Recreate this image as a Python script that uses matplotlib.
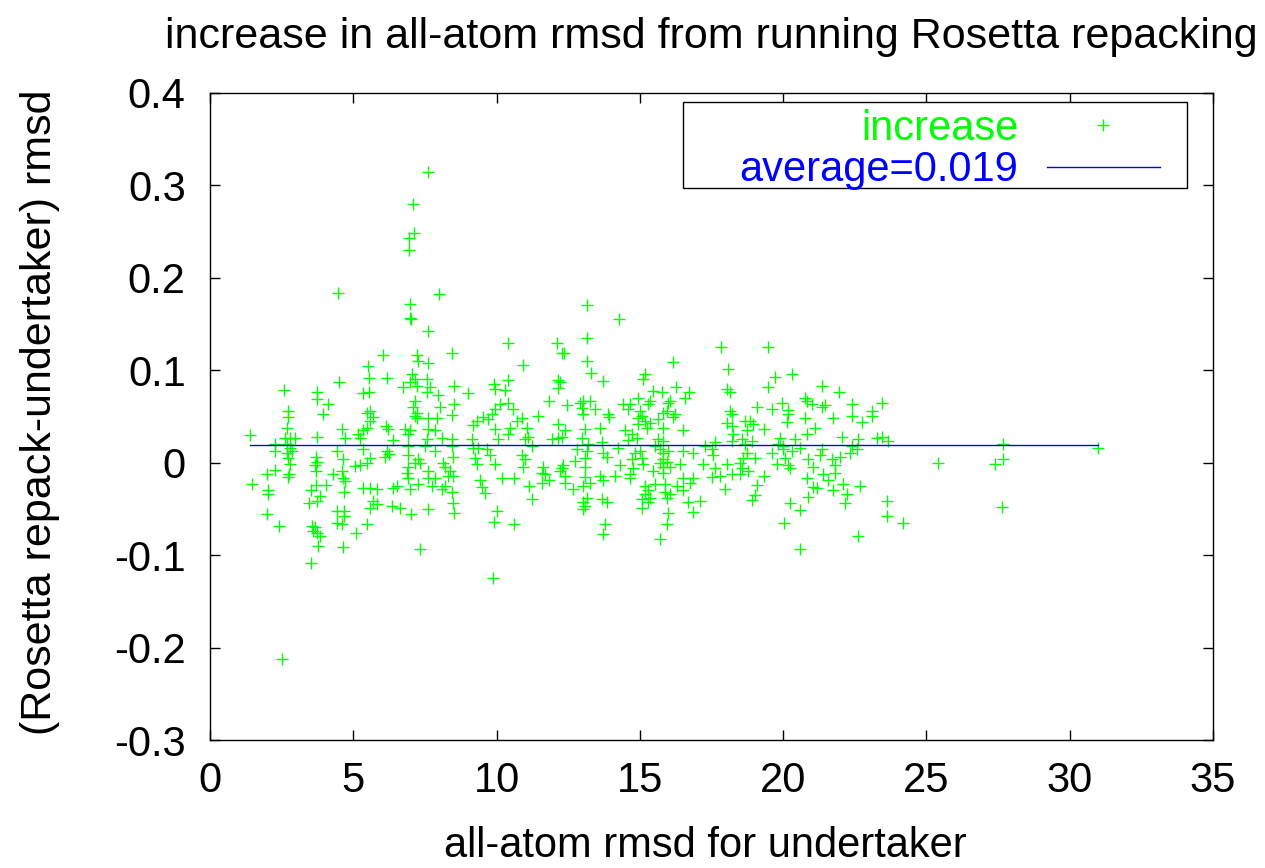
import matplotlib
matplotlib.use("Agg")
import matplotlib.pyplot as plt
import numpy as np

plt.rcParams['font.family'] = ['Liberation Sans', 'DejaVu Sans']

# ---- data ----
x_low = [1.40, 1.47, 2.02, 2.02, 1.99, 2.27, 1.99, 2.41, 2.27, 2.27, 2.58, 2.72, 2.72, 2.69, 2.62, 2.79, 2.97, 2.69,
         2.79, 2.86, 2.69, 2.72, 2.79, 2.76, 2.72, 2.51, 3.52, 3.73, 3.73, 4.12, 3.94, 3.73, 3.70, 3.73, 3.66, 3.70,
         4.05, 3.70, 3.52, 3.84, 3.73, 3.45, 3.56, 3.66, 3.73, 3.84, 3.77, 3.59, 4.50, 4.61, 4.71, 4.43, 4.64, 4.29,
         4.61, 4.64, 4.71, 4.68, 4.43, 4.68, 4.68, 4.43, 4.61, 4.64, 5.09, 5.06, 5.23, 5.48, 5.58, 5.69, 5.83, 5.34,
         5.58, 5.83, 5.48, 5.58, 5.34, 5.23, 5.16, 5.34, 5.48, 5.58, 5.69, 5.48, 5.58, 5.34, 5.55, 5.55, 5.51, 6.04,
         6.18, 6.14, 6.21, 6.39, 6.18, 6.25, 6.11, 6.39, 6.35, 4.47]
y_low = [0.030, -0.023, -0.030, -0.034, -0.012, -0.008, -0.056, -0.069, 0.020, 0.013, 0.079, 0.056, 0.049, 0.038,
         0.027, 0.027, 0.027, 0.020, 0.016, 0.013, 0.010, 0.005, -0.001, -0.012, -0.015, -0.212, -0.108, 0.077,
         0.069, 0.064, 0.053, 0.028, 0.006, 0.001, -0.003, -0.009, -0.024, -0.024, -0.030, -0.036, -0.041, -0.044,
         -0.068, -0.070, -0.076, -0.079, -0.090, -0.074, 0.087, 0.036, 0.027, 0.013, 0.004, -0.012, -0.009, -0.016,
         -0.020, -0.032, -0.052, -0.052, -0.058, -0.065, -0.066, -0.091, -0.076, -0.004, -0.003, -0.066, -0.049,
         -0.041, -0.045, -0.027, -0.027, -0.028, 0.000, 0.005, 0.015, 0.027, 0.031, 0.035, 0.038, 0.045, 0.049,
         0.054, 0.056, 0.075, 0.076, 0.092, 0.105, 0.117, 0.092, 0.040, 0.037, 0.025, 0.013, 0.009, 0.006, -0.027,
         -0.047, 0.184]

x_mid = [7.61, 7.08, 7.12, 6.94, 6.94, 7.99, 6.98, 6.98, 7.01, 13.15, 14.27,
         7.61, 10.40, 12.11, 8.44, 7.22, 7.26, 7.61, 10.92, 12.28, 7.05, 7.15, 7.57, 6.98, 6.73, 7.22, 7.68, 8.51,
         7.57, 7.96, 9.00, 9.91, 9.94, 10.40, 10.29, 12.14, 12.14, 7.15, 7.08, 7.22, 7.15, 7.22, 8.03, 8.51, 8.44,
         7.92, 7.61, 11.83, 11.44, 10.12, 10.40, 10.57, 9.94, 9.84, 9.53, 9.32, 9.70, 9.18, 9.94, 10.47, 10.71,
         10.89, 11.06, 11.10, 10.99, 10.40, 10.05, 12.14, 12.14, 11.93, 6.80, 6.98, 6.91, 7.61, 7.85, 7.57, 8.10,
         8.44, 9.14, 6.91, 7.50, 8.44, 9.18, 9.35, 9.67, 7.85, 6.91, 7.26, 8.48, 9.25, 9.77, 10.89, 11.24, 7.15,
         7.33, 8.13, 9.32, 9.94, 10.99, 10.92, 6.91, 7.61, 8.20, 8.37, 6.87, 8.48, 7.85, 6.91, 7.61, 8.30, 6.52,
         7.26, 7.75, 8.20, 6.98, 8.10, 8.44, 9.42, 9.49, 9.60, 10.19, 10.61, 11.13, 11.62, 11.58, 11.69, 11.58,
         11.83, 12.28, 11.24, 8.48, 8.51, 7.61, 6.63, 7.01, 10.01, 9.91, 10.61, 7.33, 9.87]
y_mid = [0.314, 0.280, 0.249, 0.243, 0.230, 0.183, 0.172, 0.157, 0.156, 0.171, 0.155,
         0.142, 0.130, 0.129, 0.119, 0.116, 0.110, 0.108, 0.106, 0.119, 0.096, 0.091, 0.091, 0.087, 0.082, 0.083,
         0.082, 0.083, 0.076, 0.073, 0.075, 0.085, 0.080, 0.090, 0.079, 0.089, 0.081, 0.067, 0.060, 0.054, 0.051,
         0.048, 0.060, 0.063, 0.052, 0.048, 0.048, 0.067, 0.051, 0.064, 0.065, 0.058, 0.058, 0.053, 0.049, 0.045,
         0.047, 0.041, 0.037, 0.038, 0.045, 0.048, 0.038, 0.028, 0.026, 0.031, 0.026, 0.042, 0.027, 0.026, 0.037,
         0.035, 0.031, 0.037, 0.035, 0.026, 0.027, 0.026, 0.026, 0.018, 0.018, 0.018, 0.016, 0.016, 0.015, 0.013,
         0.008, 0.004, 0.006, 0.005, 0.008, 0.008, 0.018, 0.000, 0.000, 0.000, -0.001, -0.001, 0.004, -0.005,
         -0.005, -0.009, -0.005, -0.009, -0.011, -0.014, -0.016, -0.017, -0.017, -0.014, -0.025, -0.023, -0.025,
         -0.025, -0.028, -0.028, -0.032, -0.019, -0.026, -0.033, -0.017, -0.016, -0.025, -0.005, -0.011, -0.012,
         -0.022, -0.019, -0.006, -0.039, -0.044, -0.054, -0.050, -0.049, -0.056, -0.052, -0.064, -0.066, -0.093,
         -0.125]

x_high = [13.15, 12.35, 13.15, 13.29, 13.71, 15.18, 15.11, 16.15, 17.83, 12.21, 12.46, 12.91, 13.01, 13.26, 12.98,
          13.01, 13.43, 13.89, 13.92, 14.41, 14.58, 14.65, 14.93, 15.00, 15.07, 14.93, 15.35, 15.28, 15.46, 15.77,
          16.26, 15.98, 16.05, 15.95, 16.22, 16.15, 16.57, 16.71, 15.81, 15.18, 15.35, 14.93, 15.25, 15.63, 15.81,
          13.61, 13.08, 12.39, 12.28, 12.98, 14.48, 14.72, 16.50, 14.90, 14.58, 15.63, 15.81, 13.68, 13.19, 14.24,
          15.53, 15.70, 12.81, 13.15, 15.00, 15.81, 15.98, 16.50, 16.85, 17.27, 17.62, 17.52, 13.71, 13.85, 14.83,
          13.08, 15.07, 17.55, 12.74, 15.81, 15.70, 15.95, 14.72, 15.11, 16.40, 17.20, 18.04, 12.32, 14.31, 13.08,
          15.81, 16.05, 14.76, 17.62, 12.21, 15.46, 14.65, 15.81, 12.39, 13.08, 13.61, 14.13, 17.52, 17.80, 14.65,
          16.50, 13.71, 16.85, 12.39, 13.26, 15.53, 15.88, 16.75, 13.01, 15.18, 16.29, 12.67, 15.28, 16.50, 15.88,
          16.05, 17.97, 15.18, 15.35, 15.95, 13.15, 13.01, 13.68, 13.85, 15.07, 15.28, 16.68, 17.10, 13.08, 13.01,
          15.07, 15.98, 16.85, 13.78, 13.71, 15.95, 15.70]
y_high = [0.135, 0.119, 0.110, 0.097, 0.088, 0.096, 0.091, 0.109, 0.125, 0.087, 0.062, 0.065, 0.067, 0.067, 0.059,
          0.053, 0.058, 0.053, 0.049, 0.064, 0.058, 0.064, 0.070, 0.056, 0.051, 0.048, 0.067, 0.064, 0.078, 0.076,
          0.082, 0.065, 0.067, 0.056, 0.053, 0.049, 0.070, 0.077, 0.054, 0.045, 0.043, 0.042, 0.038, 0.047, 0.038,
          0.038, 0.037, 0.035, 0.028, 0.027, 0.035, 0.031, 0.035, 0.027, 0.025, 0.026, 0.024, 0.022, 0.020, 0.016,
          0.018, 0.015, 0.015, 0.013, 0.013, 0.011, 0.013, 0.013, 0.010, 0.018, 0.022, 0.015, 0.010, 0.006, 0.010,
          0.005, 0.005, 0.008, 0.002, 0.004, 0.000, 0.001, 0.004, -0.001, -0.001, -0.001, -0.001, -0.003, -0.003,
          -0.005, -0.005, -0.005, -0.006, -0.006, -0.009, -0.009, -0.012, -0.011, -0.014, -0.015, -0.014, -0.014,
          -0.015, -0.014, -0.017, -0.017, -0.019, -0.017, -0.022, -0.022, -0.023, -0.023, -0.022, -0.025, -0.025,
          -0.025, -0.028, -0.029, -0.029, -0.032, -0.034, -0.028, -0.034, -0.038, -0.038, -0.038, -0.043, -0.039,
          -0.043, -0.039, -0.043, -0.043, -0.041, -0.047, -0.050, -0.049, -0.054, -0.053, -0.066, -0.077, -0.066,
          -0.083]

x_far = [19.47, 18.07, 18.04, 18.14, 19.71, 20.31, 19.47, 21.35, 21.95, 20.76, 20.83, 21.00, 19.96, 19.09, 19.61,
         20.17, 20.17, 21.35, 21.46, 22.40, 23.45, 23.10, 23.10, 22.40, 22.75, 21.74, 20.76, 20.13, 18.14, 18.21,
         18.04, 18.67, 18.84, 18.95, 18.21, 21.11, 20.83, 19.33, 18.74, 18.25, 22.05, 23.27, 23.45, 22.61, 23.66,
         19.89, 20.41, 18.56, 18.91, 18.21, 18.67, 19.82, 19.99, 20.59, 19.99, 20.31, 21.35, 22.40, 22.58, 19.61,
         18.74, 18.60, 19.02, 21.28, 22.33, 21.98, 21.70, 20.06, 20.87, 18.49, 19.78, 20.17, 21.81, 21.04, 18.56,
         20.24, 18.77, 21.81, 18.21, 18.49, 21.39, 19.33, 20.83, 21.56, 22.09, 22.68, 19.09, 21.04, 21.18, 21.74,
         19.02, 18.91, 22.23, 20.87, 20.24, 20.59, 22.16, 23.62, 23.62, 20.03, 22.61, 20.59,
         25.40, 27.67, 27.67, 27.39, 27.63, 24.18, 30.98]
y_far = [0.125, 0.101, 0.080, 0.076, 0.093, 0.096, 0.082, 0.083, 0.077, 0.070, 0.067, 0.064, 0.065, 0.060, 0.058,
         0.057, 0.053, 0.060, 0.062, 0.064, 0.065, 0.056, 0.051, 0.051, 0.044, 0.048, 0.048, 0.044, 0.056, 0.053,
         0.043, 0.045, 0.045, 0.042, 0.040, 0.038, 0.031, 0.036, 0.035, 0.031, 0.028, 0.027, 0.028, 0.026, 0.024,
         0.027, 0.026, 0.026, 0.024, 0.024, 0.020, 0.020, 0.018, 0.016, 0.015, 0.013, 0.015, 0.018, 0.015, 0.011,
         0.011, 0.005, 0.005, 0.008, 0.010, 0.006, 0.004, 0.005, 0.004, 0.000, -0.001, -0.003, -0.003, -0.005,
         -0.006, -0.006, -0.009, -0.011, -0.012, -0.012, -0.012, -0.014, -0.016, -0.019, -0.023, -0.025, -0.024,
         -0.026, -0.027, -0.029, -0.035, -0.040, -0.034, -0.037, -0.044, -0.051, -0.044, -0.041, -0.058, -0.065,
         -0.079, -0.093,
         0.000, 0.020, 0.004, -0.001, -0.048, -0.065, 0.016]

average = 0.019

x_all = np.array(x_low + x_mid + x_high + x_far)
y_all = np.array(y_low + y_mid + y_high + y_far)

x_ticks = [0, 5, 10, 15, 20, 25, 30, 35]
y_ticks = [-0.3, -0.2, -0.1, 0, 0.1, 0.2, 0.3, 0.4]
y_tick_labels = ['-0.3', '-0.2', '-0.1', '0', '0.1', '0.2', '0.3', '0.4']

FS = 30

# ---- figure ----
fig = plt.figure(figsize=(12.65, 8.68), dpi=100)
ax = fig.add_axes([210/1265, 1 - 740/868, (1213-210)/1265, (740-93)/868])

ax.plot(x_all, y_all, linestyle='none', marker='+', color='#00ff00', markersize=8.5, markeredgewidth=1.0)
ax.plot([x_all.min(), x_all.max()], [average, average], color='#0000ff', linewidth=1.0)

ax.set_xlim(0, 35)
ax.set_ylim(-0.3, 0.4)
ax.set_xticks(x_ticks)
ax.set_xticklabels([str(t) for t in x_ticks])
ax.set_yticks(y_ticks)
ax.set_yticklabels(y_tick_labels)
ax.tick_params(direction='in', length=7, width=1, top=True, right=True, labelsize=FS, colors='black')
ax.tick_params(axis='x', pad=15)
ax.tick_params(axis='y', pad=17.5)
for s in ax.spines.values():
    s.set_linewidth(1.0)

ax.set_title('increase in all-atom rmsd from running Rosetta repacking', fontsize=31,
             y=(740 - 48) / 647, va='baseline', pad=0)
ax.set_xlabel('all-atom rmsd for undertaker', fontsize=FS)
ax.xaxis.label.set_va('baseline')
ax.xaxis.set_label_coords(0.494, (740 - 857) / 647)
ax.set_ylabel('(Rosetta repack-undertaker) rmsd', fontsize=31)
ax.yaxis.set_label_coords(-0.15, 0.506)

# ---- legend (drawn as a keyed box) ----
ax.add_patch(plt.Rectangle((0.4716, 0.853), 0.974 - 0.4716, 0.986 - 0.853, transform=ax.transAxes,
                           facecolor='white', edgecolor='black', linewidth=1.0, zorder=5))
ax.text(0.806, 0.945, 'increase', transform=ax.transAxes, ha='right', va='center', fontsize=FS,
        color='#00ff00', zorder=6)
ax.text(0.806, 0.881, 'average=0.019', transform=ax.transAxes, ha='right', va='center', fontsize=FS,
        color='#0000ff', zorder=6)
ax.plot([0.890], [0.9505], transform=ax.transAxes, marker='+', color='#00ff00', markersize=8.5,
        markeredgewidth=1.0, linestyle='none', zorder=6)
ax.plot([0.8345, 0.947], [0.8856, 0.8856], transform=ax.transAxes, color='#0000ff', linewidth=1.0, zorder=6)

fig.savefig('out.png', dpi=100)
